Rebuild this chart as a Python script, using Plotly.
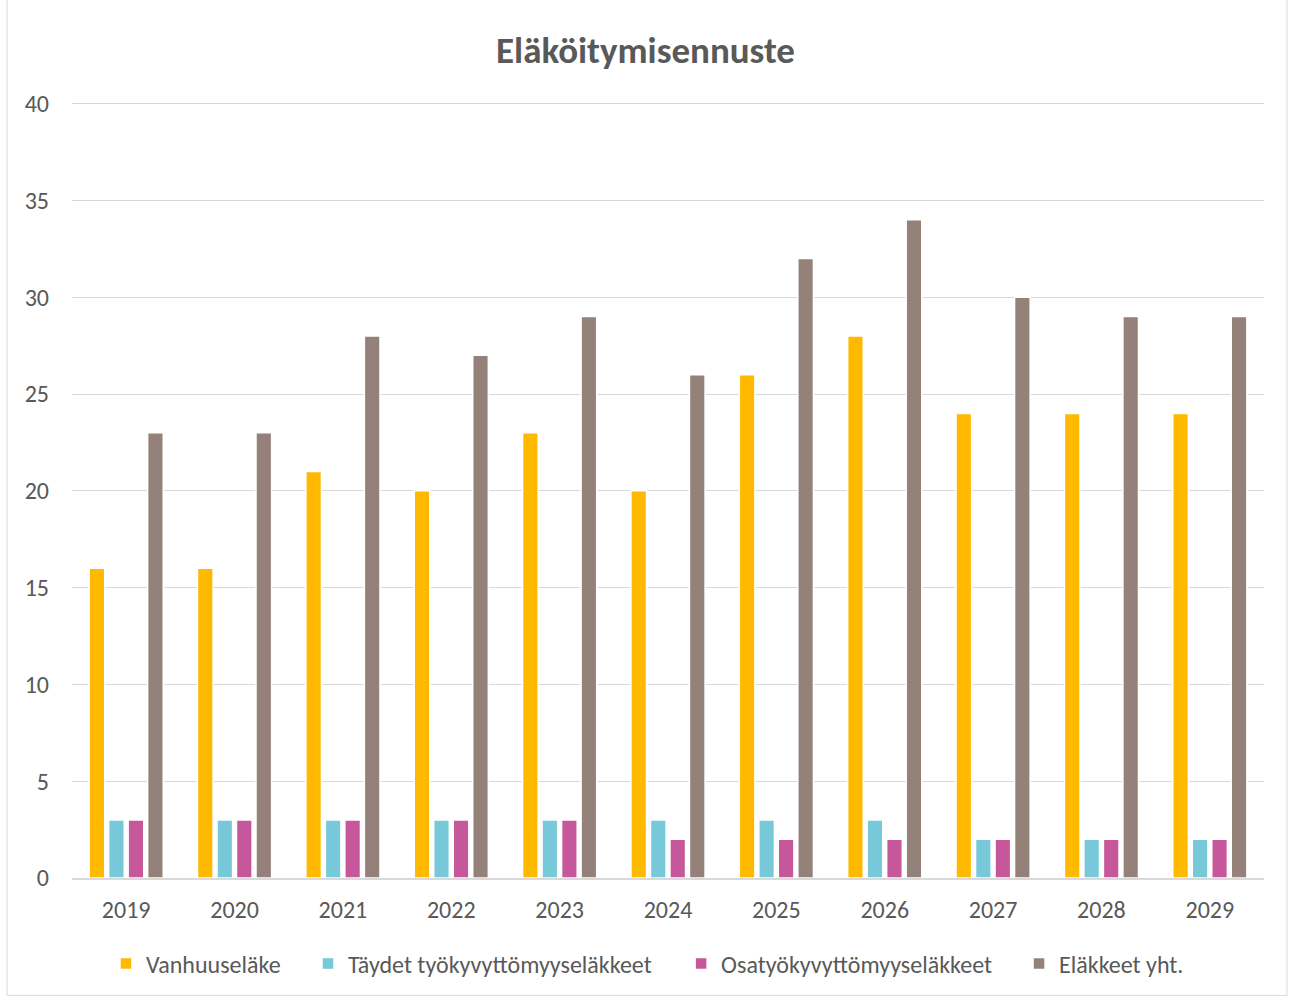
import plotly.graph_objects as go

years = ["2019", "2020", "2021", "2022", "2023", "2024", "2025", "2026", "2027", "2028", "2029"]
vanhuus = [16, 16, 21, 20, 23, 20, 26, 28, 24, 24, 24]
taydet = [3, 3, 3, 3, 3, 3, 3, 3, 2, 2, 2]
osa = [3, 3, 3, 3, 3, 2, 2, 2, 2, 2, 2]
yht = [23, 23, 28, 27, 29, 26, 32, 34, 30, 29, 29]

names = ["Vanhuuseläke", "Täydet työkyvyttömyyseläkkeet", "Osatyökyvyttömyyseläkkeet", "Eläkkeet yht."]
colors = ["#FFB900", "#77C9DA", "#C5579A", "#948179"]
series = [vanhuus, taydet, osa, yht]
legend_ids = ["legend", "legend2", "legend3", "legend4"]
legend_x = [0.0285, 0.1980, 0.5110, 0.7945]

fig = go.Figure()
for n, c, s, lg in zip(names, colors, series, legend_ids):
    fig.add_trace(go.Bar(x=years, y=s, name=n, legend=lg,
                         marker=dict(color=c, line=dict(color="white", width=1.5))))

font = "Carlito, Calibri, Lato, sans-serif"
legend_common = dict(orientation="h", xanchor="left", y=-0.108, yanchor="middle",
                     font=dict(family=font, size=24, color="#595959"), itemwidth=30,
                     bgcolor="rgba(0,0,0,0)", borderwidth=0)
fig.update_layout(
    width=1291, height=997,
    paper_bgcolor="white", plot_bgcolor="white",
    margin=dict(l=72, r=27, t=94, b=118),
    barmode="group", bargap=0.28, bargroupgap=0.2,
    title=dict(text="<b>Eläköitymisennuste</b>", x=0.5, xanchor="center", y=0.95, yanchor="middle",
               font=dict(family=font, size=37, color="#595959")),
    font=dict(family=font, size=24, color="#595959"),
    showlegend=True,
    legend=dict(x=legend_x[0], **legend_common),
    legend2=dict(x=legend_x[1], **legend_common),
    legend3=dict(x=legend_x[2], **legend_common),
    legend4=dict(x=legend_x[3], **legend_common),
    xaxis=dict(showgrid=False, showline=True, linecolor="#D9D9D9", linewidth=2, ticks="",
               ticklabelstandoff=9, tickfont=dict(size=24, color="#595959")),
    yaxis=dict(range=[0, 40.5], tickvals=[0, 5, 10, 15, 20, 25, 30, 35, 40], showgrid=True,
               gridcolor="#D9D9D9", gridwidth=1,
               zeroline=False, showline=False, ticks="", ticklabelstandoff=22,
               tickfont=dict(size=24, color="#595959")),
    shapes=[dict(type="rect", xref="paper", yref="paper", x0=-0.0545, x1=1.0193, y0=-0.1497, y1=1.1376,
                 line=dict(color="#D9D9D9", width=1))],
)
fig.write_html("out.html", config={"displayModeBar": False},
               post_script="document.body.style.margin='0px';document.body.style.padding='0px';")
